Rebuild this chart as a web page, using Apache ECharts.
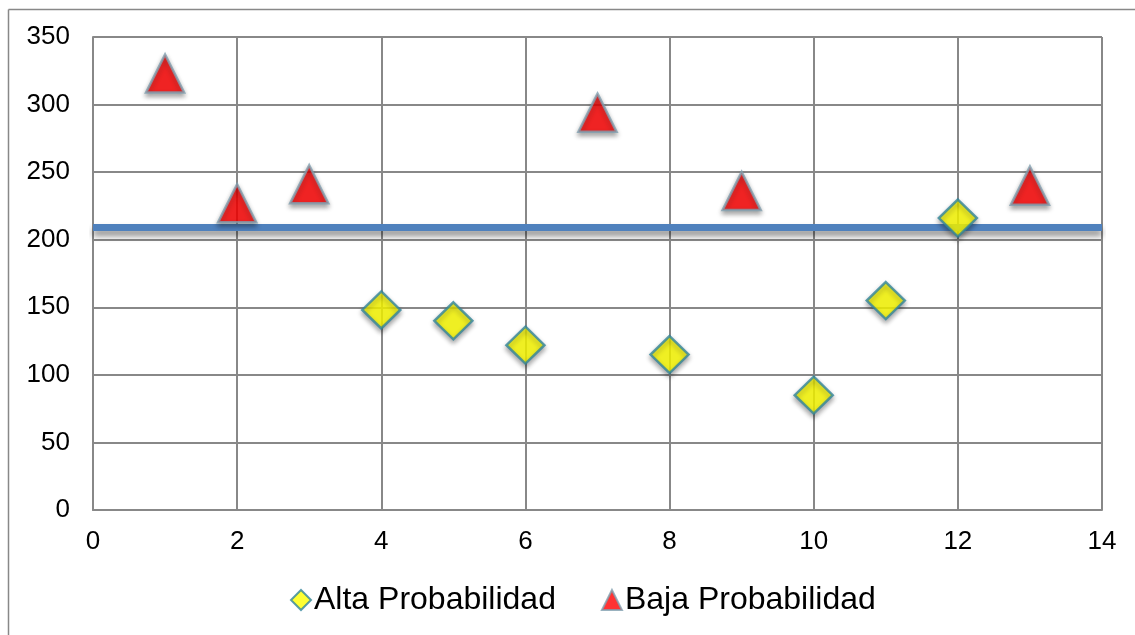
<!DOCTYPE html>
<html>
<head>
<meta charset="utf-8">
<script src="https://cdn.jsdelivr.net/npm/echarts@6/dist/echarts.min.js"></script>
<style>
html,body{margin:0;padding:0;background:#fff;}
#chart{width:1135px;height:635px;}
</style>
</head>
<body>
<div id="chart"></div>
<script>
var altaX = [4, 5, 6, 8, 10, 11, 12];
var altaY = [148, 140, 122, 115, 85, 155, 216];
var bajaX = [1, 2, 3, 7, 9, 13];
var bajaY = [323, 227, 241, 294, 236, 240];
var refLineX = [0, 14];
var refLineY = [209, 209];
var seriesNames = ['Alta Probabilidad', 'Baja Probabilidad'];

function pairs(xs, ys) { return xs.map(function (x, i) { return [x, ys[i]]; }); }

var chart = echarts.init(document.getElementById('chart'));
var font = 'Liberation Sans, Arial, sans-serif';
chart.setOption({
  animation: false,
  backgroundColor: '#fff',
  graphic: [
    { type: 'line', shape: { x1: 8.5, y1: 9.5, x2: 1140, y2: 9.5 }, style: { stroke: '#888', lineWidth: 1.5 } },
    { type: 'line', shape: { x1: 8.5, y1: 9.5, x2: 8.5, y2: 640 }, style: { stroke: '#888', lineWidth: 1.5 } }
  ],
  grid: { left: 93, top: 37, right: 33, bottom: 125, containLabel: false },
  xAxis: {
    type: 'value', min: 0, max: 14, interval: 2,
    axisLine: { show: true, lineStyle: { color: '#888', width: 2 } },
    axisTick: { show: false },
    splitLine: { show: true, lineStyle: { color: '#888', width: 2 } },
    axisLabel: { color: '#000', fontFamily: font, fontSize: 26, margin: 19 }
  },
  yAxis: {
    type: 'value', min: 0, max: 350, interval: 50,
    axisLine: { show: true, lineStyle: { color: '#888', width: 2 } },
    axisTick: { show: false },
    splitLine: { show: true, lineStyle: { color: '#888', width: 2 } },
    axisLabel: { color: '#000', fontFamily: font, fontSize: 26, margin: 23 }
  },
  legend: {
    bottom: 14, left: 285,
    itemWidth: 20, itemHeight: 20, itemGap: 45,
    textStyle: { color: '#000', fontFamily: font, fontSize: 32, padding: [0, 0, 0, -2] },
    data: [
      { name: seriesNames[0], icon: 'diamond' },
      { name: seriesNames[1], icon: 'triangle' }
    ]
  },
  series: [
    {
      name: 'ref', type: 'line', data: pairs(refLineX, refLineY),
      symbol: 'none', silent: true, z: 2,
      lineStyle: { color: '#4f81bd', width: 7, shadowColor: 'rgba(0,0,0,0.45)', shadowBlur: 6, shadowOffsetY: 5 }
    },
    {
      name: seriesNames[0], type: 'scatter', data: pairs(altaX, altaY),
      symbol: 'diamond', symbolSize: [38, 37], z: 3,
      itemStyle: { color: '#ffff00', borderColor: '#31859c', borderWidth: 2.5, shadowColor: 'rgba(0,0,0,0.4)', shadowBlur: 5, shadowOffsetY: 3 }
    },
    {
      name: seriesNames[1], type: 'scatter', data: pairs(bajaX, bajaY),
      symbol: 'triangle', symbolSize: [38, 38], z: 3,
      itemStyle: { color: '#ff0000', borderColor: '#7f9faf', borderWidth: 2.5, shadowColor: 'rgba(0,0,0,0.4)', shadowBlur: 5, shadowOffsetY: 3 }
    }
  ]
});
</script>
</body>
</html>
